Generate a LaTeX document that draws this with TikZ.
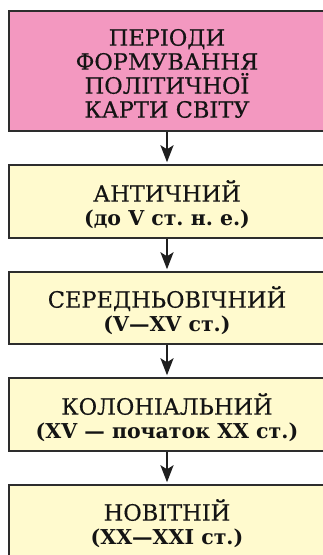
\documentclass[tikz,border=0pt]{standalone}
\usepackage{fontspec}
\setmainfont{DejaVu Serif}[FakeBold=0.4]
\newfontfamily\subfont{DejaVu Serif}[UprightFont=* Bold]
\usetikzlibrary{arrows.meta}
\definecolor{pinkbox}{RGB}{243,152,192}
\definecolor{yelbox}{RGB}{255,250,206}
\definecolor{edge}{RGB}{45,45,45}
\tikzset{
  x=1pt,y=1pt,
  periodbox/.style={draw=edge,line width=1.4pt,minimum width=316pt,inner sep=0pt,fill=yelbox},
  titlebox/.style={periodbox,fill=pinkbox},
  boxtext/.style={align=center,text=black!92,font=\frenchspacing\fontsize{22.5}{24}\selectfont},
  flow/.style={draw=black!88,line width=2.4pt,-{Stealth[length=17pt,width=13pt,inset=4pt]},shorten >=2pt}
}
\newcommand{\subline}[1]{{\subfont\fontsize{20.5}{23}\selectfont #1}}
\begin{document}
\begin{tikzpicture}
\useasboundingbox (0,0) rectangle (323,555);
\node[titlebox,minimum height=120pt] (b1) at (167,484) {};
\node[periodbox,minimum height=73pt] (b2) at (167,353.5) {};
\node[periodbox,minimum height=72pt] (b3) at (167,247) {};
\node[periodbox,minimum height=73pt] (b4) at (167,140.5) {};
\node[periodbox,minimum height=73pt] (b5) at (167,33.5) {};
\node[boxtext] (t1) at (167,481.5) {ПЕРІОДИ\\ФОРМУВАННЯ\\ПОЛІТИЧНОЇ\\КАРТИ СВІТУ};
\node[boxtext] (t2) at (167,350.5) {АНТИЧНИЙ\\\subline{(до V ст. н. е.)}};
\node[boxtext] (t3) at (167,244.5) {СЕРЕДНЬОВІЧНИЙ\\\subline{(V—XV ст.)}};
\node[boxtext] (t4) at (167,137.5) {КОЛОНІАЛЬНИЙ\\\subline{(XV — початок XX ст.)}};
\node[boxtext] (t5) at (167,31.5) {НОВІТНІЙ\\\subline{(XX—XXI ст.)}};
\draw[flow] (b1) -- (b2);
\draw[flow] (b2) -- (b3);
\draw[flow] (b3) -- (b4);
\draw[flow] (b4) -- (b5);
\end{tikzpicture}
\end{document}
